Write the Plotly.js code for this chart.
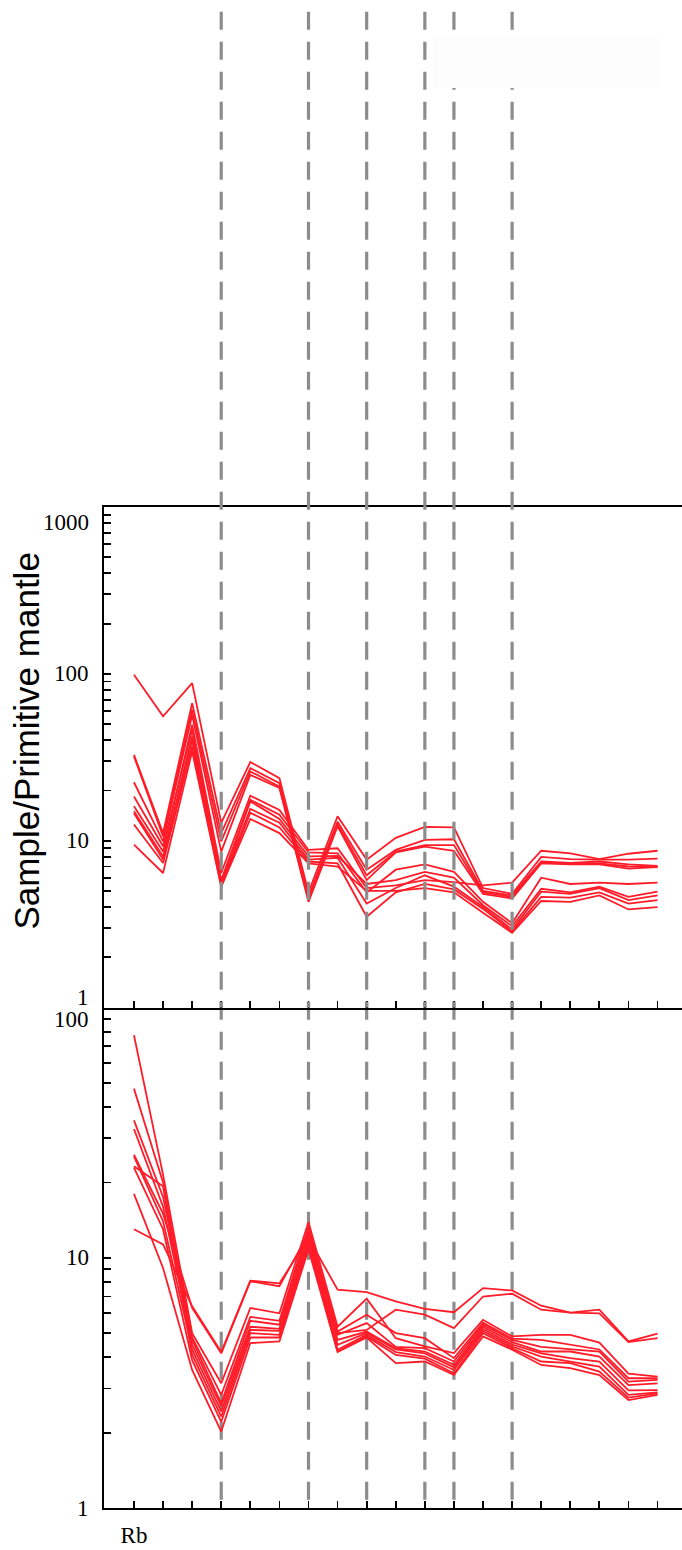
<!DOCTYPE html>
<html>
<head>
<meta charset="utf-8">
<script src="https://cdn.plot.ly/plotly-3.0.1.min.js"></script>
<style>html,body{margin:0;padding:0;background:#fff;}#chart{width:682px;height:1550px;}</style>
</head>
<body>
<div id="chart"></div>
<script>
// ---------- data ----------
const positions = [0,1,2,3,4,5,6,7,8,9,10,11,12,13,14,15,16,17,18];
const tickLabels = ['Rb','','','','','','','','','','','','','','','','','',''];
const dividerPositions = [3, 6, 8, 10, 11, 13];

const topSeries1  = [98.6, 55.6, 88.0, 12.8, 29.6, 23.7, 4.9, 14.0, 7.7, 10.4, 12.1, 12.0, 5.2, 4.8, 8.0, 7.75, 7.7, 7.7, 7.8];
const topSeries2  = [32.7, 11.1, 66.7, 11.1, 27.2, 22.1, 4.6, 13.0, 6.7, 8.8, 10.1, 10.2, 5.0, 4.7, 7.5, 7.35, 7.5, 7.2, 7.05];
const topSeries3  = [32.0, 10.6, 60.8, 9.9, 26.0, 21.1, 4.4, 12.5, 6.2, 8.6, 9.4, 9.4, 4.9, 4.6, 7.35, 7.3, 7.3, 7.0, 6.95];
const topSeries4  = [22.4, 9.9, 56.7, 8.6, 24.8, 20.7, 4.3, 12.2, 5.8, 8.5, 9.2, 8.7, 4.8, 4.5, 7.3, 7.2, 7.2, 6.8, 6.95];
const topSeries5  = [16.1, 8.6, 49.5, 6.4, 18.6, 15.3, 8.8, 9.0, 5.2, 5.4, 5.8, 5.65, 5.4, 5.6, 8.7, 8.4, 7.75, 8.35, 8.7];
const topSeries6  = [18.4, 9.25, 46.2, 5.8, 17.6, 14.3, 8.5, 8.4, 4.9, 6.7, 7.2, 6.5, 4.3, 3.2, 6.0, 5.5, 5.6, 5.5, 5.6];
const topSeries7  = [15.0, 8.05, 42.2, 5.6, 17.2, 13.5, 8.05, 8.1, 5.5, 5.8, 6.5, 6.0, 4.1, 3.07, 5.15, 4.9, 5.3, 4.6, 4.95];
const topSeries8  = [14.6, 7.7, 40.0, 5.5, 15.5, 12.8, 7.7, 7.9, 4.2, 5.2, 6.2, 5.3, 4.0, 2.93, 4.95, 4.8, 5.2, 4.4, 4.7];
const topSeries9  = [12.5, 7.35, 36.7, 5.3, 14.7, 12.0, 7.5, 7.3, 3.5, 4.9, 5.5, 5.1, 3.9, 2.85, 4.6, 4.55, 4.9, 4.2, 4.4];
const topSeries10 = [9.46, 6.4, 34.3, 5.3, 13.5, 11.1, 7.3, 7.0, 5.0, 5.0, 5.2, 4.9, 3.7, 2.8, 4.35, 4.3, 4.7, 3.87, 4.0];

const bottomSeries1  = [77.5, 21.5, 5.0, 3.15, 6.3, 6.0, 13.9, 5.3, 6.86, 4.77, 4.42, 4.16, 5.65, 4.85, 4.92, 4.92, 4.58, 3.44, 3.35];
const bottomSeries2  = [47.4, 20.0, 4.8, 2.83, 5.8, 5.6, 13.3, 5.07, 5.92, 5.0, 4.77, 3.97, 5.5, 4.75, 4.7, 4.49, 4.3, 3.3, 3.3];
const bottomSeries3  = [35.4, 17.5, 4.7, 2.62, 5.6, 5.4, 12.8, 4.92, 5.48, 4.4, 4.35, 3.85, 5.4, 4.7, 4.4, 4.3, 4.22, 3.2, 3.25];
const bottomSeries4  = [32.7, 16.0, 4.5, 2.55, 5.3, 5.2, 12.3, 4.7, 5.07, 4.35, 4.22, 3.73, 5.3, 4.6, 4.22, 4.22, 4.03, 3.1, 3.15];
const bottomSeries5  = [25.8, 15.0, 6.3, 4.15, 8.05, 7.7, 12.5, 5.0, 5.15, 6.2, 5.92, 5.23, 7.0, 7.18, 6.2, 6.04, 6.0, 4.6, 4.77];
const bottomSeries6  = [25.4, 14.0, 4.3, 2.43, 5.15, 5.1, 11.8, 4.49, 5.0, 4.3, 4.15, 3.65, 5.2, 4.5, 4.15, 3.97, 3.85, 2.95, 2.96];
const bottomSeries7  = [23.2, 19.3, 4.1, 2.32, 5.0, 4.92, 11.5, 4.29, 4.92, 4.2, 4.03, 3.56, 5.1, 4.42, 4.03, 3.85, 3.67, 2.83, 2.9];
const bottomSeries8  = [22.9, 13.0, 3.9, 2.21, 4.8, 4.8, 11.2, 4.22, 4.85, 4.09, 3.95, 3.45, 5.0, 4.35, 3.85, 3.79, 3.51, 2.76, 2.87];
const bottomSeries9  = [18.0, 9.1, 3.56, 2.02, 4.56, 4.63, 10.8, 4.2, 4.8, 3.79, 3.85, 3.4, 4.85, 4.29, 3.73, 3.62, 3.4, 2.7, 2.83];
const bottomSeries10 = [13.0, 11.3, 6.4, 4.2, 8.1, 7.9, 12.0, 7.45, 7.29, 6.69, 6.25, 6.06, 7.56, 7.4, 6.43, 6.04, 6.2, 4.63, 4.97];

const topLabelValues = [1000, 100, 10, 1];
const bottomLabelValues = [100, 10, 1];
const yTitle = 'Sample/Primitive mantle';

// ---------- build ----------
const topSeries = [topSeries1, topSeries2, topSeries3, topSeries4, topSeries5, topSeries6, topSeries7, topSeries8, topSeries9, topSeries10];
const bottomSeries = [bottomSeries1, bottomSeries2, bottomSeries3, bottomSeries4, bottomSeries5, bottomSeries6, bottomSeries7, bottomSeries8, bottomSeries9, bottomSeries10];

const RED = 'rgb(255,28,40)';
const traces = [];
topSeries.forEach(s => traces.push({x: positions, y: s, type: 'scatter', mode: 'lines', xaxis: 'x2', yaxis: 'y2',
  line: {color: RED, width: 1.8}, hoverinfo: 'skip', showlegend: false}));
bottomSeries.forEach(s => traces.push({x: positions, y: s, type: 'scatter', mode: 'lines', xaxis: 'x', yaxis: 'y',
  line: {color: RED, width: 1.8}, hoverinfo: 'skip', showlegend: false}));

function logTicks(maxDec) {
  const v = [];
  for (let d = 0; d < maxDec; d++) for (let m = 1; m < 10; m++) v.push(m * Math.pow(10, d));
  v.push(Math.pow(10, maxDec));
  return v;
}

const H = 1550, T = 507, B = 42;
const plotH = H - T - B;
const pxToPaper = p => (H - B - p) / plotH;

const axisCommon = {showgrid: false, zeroline: false, showline: true, linecolor: '#000', linewidth: 2,
  ticks: 'inside', ticklen: 7, tickwidth: 1.8, tickcolor: '#000'};

const shapes = [];
const dashTopStart = pxToPaper(-18.3);
const dashSplit = pxToPaper(1001.7);
dividerPositions.forEach(p => {
  shapes.push({type: 'line', xref: 'x', yref: 'paper', x0: p, x1: p, y0: dashSplit, y1: 0, layer: 'below',
    line: {color: 'rgb(140,140,140)', width: 3.2, dash: '18px,12px'}});
  shapes.push({type: 'line', xref: 'x', yref: 'paper', x0: p, x1: p, y0: dashTopStart, y1: pxToPaper(1007.5), layer: 'above',
    line: {color: 'rgb(140,140,140)', width: 3.2, dash: '18px,12px'}});
});
// faint (empty) legend box in the top area
shapes.push({type: 'rect', xref: 'paper', yref: 'paper', x0: (433 - 104) / 578, x1: (660 - 104) / 578,
  y0: pxToPaper(88), y1: pxToPaper(38), layer: 'above', fillcolor: 'rgb(253,253,253)', line: {width: 0}});

const labelFont = {family: 'Liberation Serif, Times New Roman, serif', size: 23, color: '#000'};
const annotations = [];
const topShift = {1000: -15, 100: 0, 10: 0, 1: 10};
topLabelValues.forEach(v => annotations.push({xref: 'paper', yref: 'y2', x: (91 - 104) / 578, y: Math.log10(v),
  text: String(v), showarrow: false, xanchor: 'right', yanchor: 'middle', yshift: topShift[v], font: labelFont}));
const botShift = {100: -12, 10: 0, 1: 0};
bottomLabelValues.forEach(v => annotations.push({xref: 'paper', yref: 'y', x: (91 - 104) / 578, y: Math.log10(v),
  text: String(v), showarrow: false, xanchor: 'right', yanchor: 'middle', yshift: botShift[v], font: labelFont}));
annotations.push({xref: 'paper', yref: 'paper', x: (26 - 104) / 578, y: pxToPaper(741.5), text: yTitle, textangle: -90,
  showarrow: false, xanchor: 'center', yanchor: 'middle',
  font: {family: 'Liberation Sans, Arial, sans-serif', size: 35, color: '#000'}});

const layout = {
  width: 682, height: H,
  margin: {l: 104, r: 0, t: T, b: B, pad: 0},
  paper_bgcolor: '#fff', plot_bgcolor: 'rgba(0,0,0,0)',
  showlegend: false,
  xaxis: Object.assign({}, axisCommon, {domain: [0, 1], anchor: 'y', range: [-1.03, 18.84],
    tickmode: 'array', tickvals: positions, ticktext: tickLabels, ticklabelstandoff: 5,
    tickfont: labelFont}),
  yaxis: Object.assign({}, axisCommon, {domain: [0, 0.5], anchor: 'x', type: 'log', range: [0, 2],
    tickmode: 'array', tickvals: logTicks(2), showticklabels: false}),
  xaxis2: Object.assign({}, axisCommon, {domain: [0, 1], anchor: 'y2', range: [-1.03, 18.84], mirror: true,
    tickmode: 'array', tickvals: positions, showticklabels: false}),
  yaxis2: Object.assign({}, axisCommon, {domain: [0.5, 1], anchor: 'x2', type: 'log', range: [0, 3],
    tickmode: 'array', tickvals: logTicks(3), showticklabels: false}),
  shapes: shapes,
  annotations: annotations
};

Plotly.newPlot('chart', traces, layout, {displayModeBar: false, staticPlot: true});
</script>
</body>
</html>
